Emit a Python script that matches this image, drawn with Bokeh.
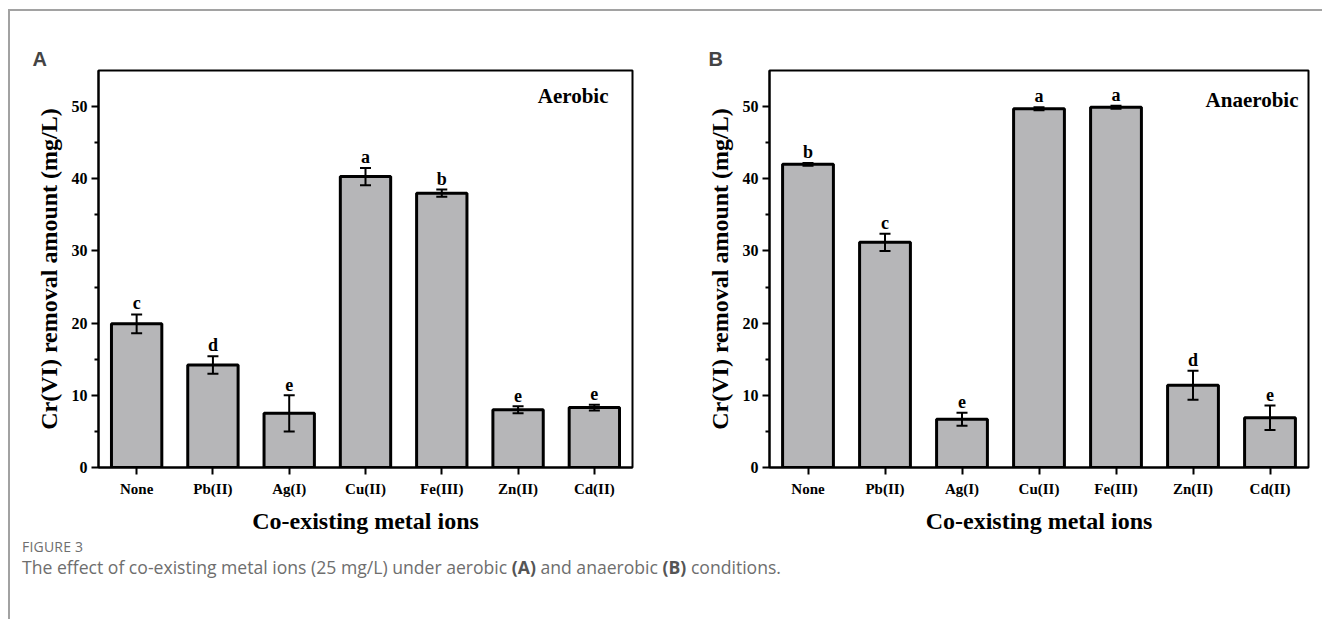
from bokeh.plotting import figure
from bokeh.models import (FactorRange, Range1d, ColumnDataSource, Whisker, TeeHead,
                          Label, Div, FixedTicker)
from bokeh.layouts import row, column
from bokeh.core.properties import value
from bokeh.embed import file_html
from bokeh.resources import INLINE

metals = ["None", "Pb(II)", "Ag(I)", "Cu(II)", "Fe(III)", "Zn(II)", "Cd(II)"]
aer_mean = [19.9, 14.2, 7.5, 40.3, 38.0, 8.0, 8.3]
aer_err = [1.3, 1.2, 2.5, 1.2, 0.5, 0.5, 0.4]
aer_letters = ["c", "d", "e", "a", "b", "e", "e"]
ana_mean = [42.0, 31.2, 6.7, 49.7, 49.9, 11.4, 6.9]
ana_err = [0.2, 1.2, 0.9, 0.2, 0.2, 2.0, 1.7]
ana_letters = ["b", "c", "e", "a", "a", "d", "e"]
y_ticks = [0, 10, 20, 30, 40, 50]

SERIF = "Liberation Serif"


def panel(means, errs, letters, cond, cond_y, cond_dx, tag, tag_dx, width, bl, br, bt, bb, height):
    src = ColumnDataSource(dict(
        x=metals, top=means,
        upper=[m + e for m, e in zip(means, errs)],
        lower=[m - e for m, e in zip(means, errs)],
        lab=letters))
    p = figure(x_range=FactorRange(*metals, range_padding=0), y_range=Range1d(0, 55),
               width=width, height=height, output_backend="svg", toolbar_location=None,
               min_border_left=bl, min_border_right=br, min_border_top=bt,
               min_border_bottom=bb, title=tag)
    p.title.text_font = "Liberation Sans"
    p.title.text_font_size = "20px"
    p.title.text_font_style = "bold"
    p.title.align = "left"
    p.title.offset = tag_dx
    p.title.standoff = 2
    p.background_fill_color = "white"
    p.border_fill_color = "white"
    p.outline_line_color = "black"
    p.outline_line_width = 2
    p.grid.visible = False

    p.vbar(x="x", top="top", width=0.66, source=src, fill_color="#b6b6b8",
           line_color="black", line_width=3)
    w = Whisker(base="x", upper="upper", lower="lower", source=src, line_width=2,
                line_color="black", level="overlay",
                upper_head=TeeHead(size=11, line_width=2, line_color="black"),
                lower_head=TeeHead(size=11, line_width=2, line_color="black"))
    p.add_layout(w)
    p.text(x="x", y="upper", text="lab", source=src, text_align="center",
           text_baseline="alphabetic", y_offset=-11, text_font=value(SERIF),
           text_font_style="bold", text_font_size="18px", text_color="black")

    p.add_layout(Label(x=7, y=cond_y, x_offset=cond_dx,
                       text=cond, text_align="right",
                       text_font=SERIF, text_font_style="bold", text_font_size="21px",
                       text_color="black"))

    for ax in (p.xaxis[0], p.yaxis[0]):
        ax.axis_line_width = 2
        ax.major_tick_line_width = 2
        ax.minor_tick_line_width = 2
        ax.major_tick_out = 7
        ax.major_tick_in = 0
        ax.major_label_text_font = SERIF
        ax.major_label_text_font_style = "bold"
        ax.major_label_text_color = "black"
        ax.axis_label_text_font = SERIF
        ax.axis_label_text_font_style = "bold"
        ax.axis_label_text_color = "black"
        ax.axis_label_text_font_size = "24px"
    p.yaxis.ticker = FixedTicker(ticks=y_ticks, minor_ticks=[5, 15, 25, 35, 45])
    p.yaxis.minor_tick_out = 4
    p.yaxis.minor_tick_in = 0
    p.yaxis.major_label_text_font_size = "16px"
    p.yaxis.major_label_standoff = 4
    p.yaxis.axis_label = "Cr(VI) removal amount (mg/L)"
    p.yaxis.axis_label_standoff = 7
    p.xaxis.major_label_text_font_size = "15px"
    p.xaxis.major_label_standoff = 6
    p.xaxis.axis_label = "Co-existing metal ions"
    p.xaxis.axis_label_standoff = 8
    return p


pa = panel(aer_mean, aer_err, aer_letters, "Aerobic", 49.8, -24, "A", -66,
           650, 88, 28, 58, 70, 526)
pb = panel(ana_mean, ana_err, ana_letters, "Anaerobic", 49.3, -10, "B", -61,
           660, 109, 12, 59, 70, 526)

cap = Div(text=(
    "<div style='font-family:\"Open Sans\",sans-serif;color:#6e6e6e;padding-left:7px;margin-top:-4px'>"
    "<div style='font-size:14px;line-height:17px;letter-spacing:0.2px'>FIGURE 3</div>"
    "<div style='font-size:17.6px;line-height:24px;margin-top:0px'>The effect of co-existing metal ions (25 mg/L) "
    "under aerobic <b style='color:#555'>(A)</b> and anaerobic <b style='color:#555'>(B)</b> conditions.</div>"
    "</div>"), width=1310, height=82)

layout = column(row(pa, pb, spacing=0), cap, spacing=0,
                styles={"border-top": "2px solid #a2a2a2", "border-left": "2px solid #a2a2a2",
                        "margin-top": "9px", "margin-left": "8px"})

open("out.html", "w").write(file_html(layout, INLINE))
